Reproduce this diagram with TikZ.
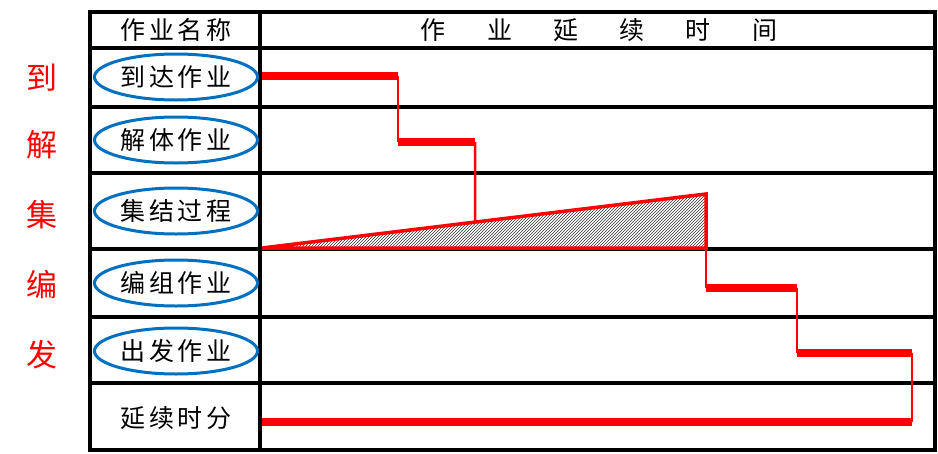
\documentclass[tikz,border=0pt]{standalone}
\usepackage{fontspec}
\newfontfamily\labelfont[LetterSpace=14]{Noto Sans CJK SC}
\newfontfamily\headfont[LetterSpace=165]{Noto Sans CJK SC}
\newfontfamily\sidefont{Noto Sans CJK SC}
\usetikzlibrary{patterns, positioning, calc, shapes.geometric}
\definecolor{ovalblue}{RGB}{0,112,192}

\begin{document}
\begin{tikzpicture}[
    x=1pt, y=-1pt,
    grid/.style={line width=3.5pt, black},
    every node/.style={font=\labelfont\fontsize{25}{28}\selectfont},
    oval/.style={ellipse, draw=ovalblue, line width=3pt, minimum width=163pt, minimum height=46pt, inner sep=0pt},
    side/.style={red, font=\sidefont\fontsize{31}{34}\selectfont},
    stepbar/.style={red, line width=8pt},
    stepjoin/.style={red, line width=2.5pt}
]
\useasboundingbox (0,0) rectangle (938,453);

% Table
\draw[grid] (90,12) rectangle (935,450);
\draw[grid] (260,12) -- (260,450);
\foreach \y in {48,107,173,249,317,383}
    \draw[grid] (90,\y) -- (935,\y);

% Nodes
\node (name) at (176,30) {作业名称};
\node (time) at (599,30) {\headfont\fontsize{25}{28}\selectfont 作业延续时间};
\node[oval] (arrive) at (176,77) {到达作业};
\node[oval] (break) at (176,140) {解体作业};
\node[oval] (collect) at (176,211) {集结过程};
\node[oval] (make) at (176,283) {编组作业};
\node[oval] (depart) at (176,351) {出发作业};
\node (total) at (176,418) {延续时分};

% Side labels
\foreach \ch/\y in {到/78, 解/145, 集/215, 编/285, 发/355}
    \node[side] (s\y) at (42,\y) {\ch};

% Step chart
\coordinate (a0) at (262,76);  \coordinate (a1) at (398,76);
\coordinate (b0) at (398,142); \coordinate (b1) at (475,142);
\coordinate (t0) at (262,248); \coordinate (t1) at (706,194); \coordinate (t2) at (706,248);
\coordinate (d0) at (706,288); \coordinate (d1) at (797,288);
\coordinate (e0) at (797,353); \coordinate (e1) at (912,353);
\coordinate (f0) at (262,422); \coordinate (f1) at (912,422);
\coordinate (bt) at ($(t0)!0.48!(t1)$);

\fill[pattern=north east lines, pattern color=black!80] (t0) -- (t1) -- (t2) -- cycle;
\draw[red, line width=3.5pt, line join=miter] (t0) -- (t1) -- (t2) -- cycle;
\draw[stepjoin] (a1) -- (b0);
\draw[stepjoin] (b1) -- (bt);
\draw[stepjoin] (t1) -- (d0);
\draw[stepjoin] (d1) -- (e0);
\draw[stepjoin] (e1) -- (f1);
\draw[stepbar] (a0) -- (a1);
\draw[stepbar] (b0) -- (b1);
\draw[stepbar] (d0) -- (d1);
\draw[stepbar] (e0) -- (e1);
\draw[stepbar] (f0) -- (f1);

\end{tikzpicture}
\end{document}
